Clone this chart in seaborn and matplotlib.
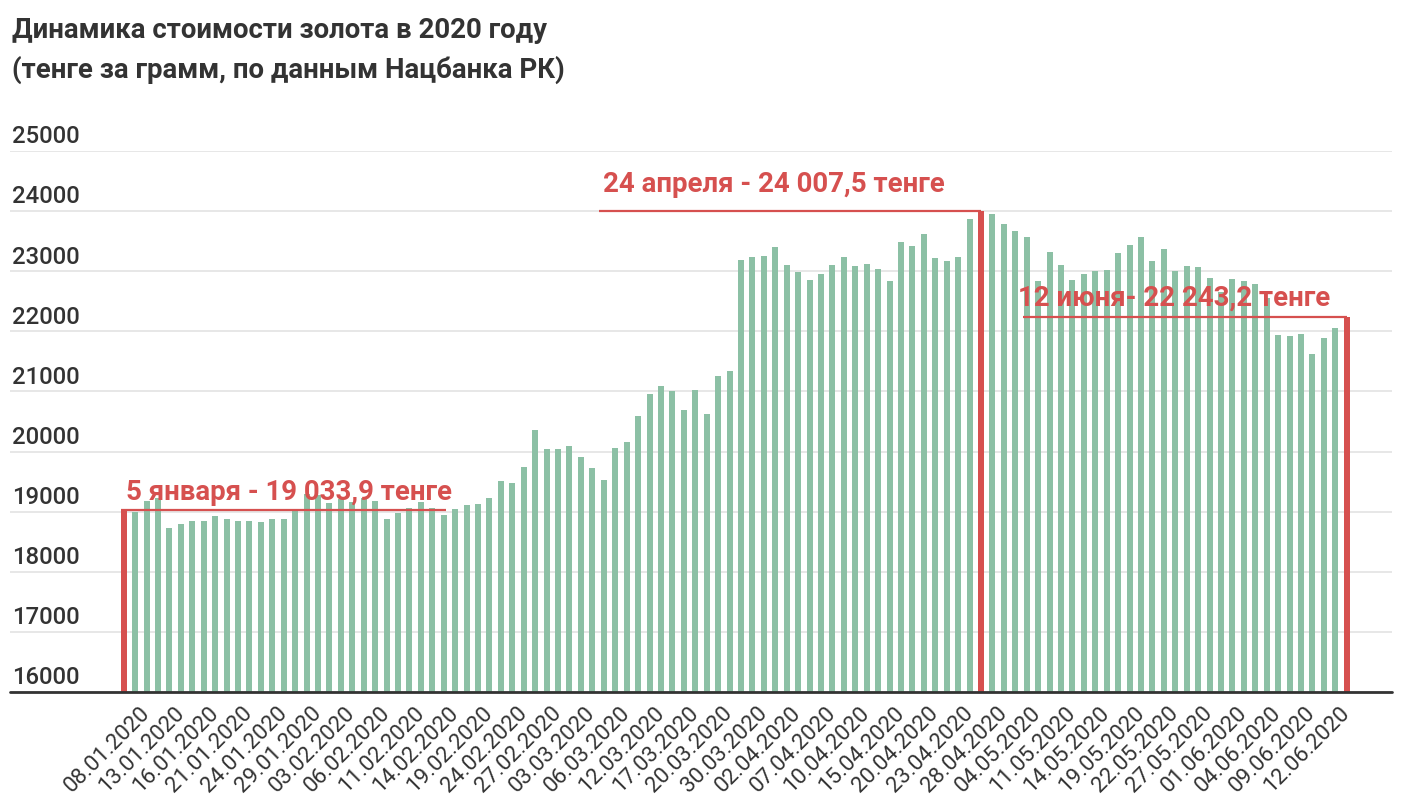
import matplotlib
matplotlib.use("Agg")
import matplotlib.pyplot as plt
import matplotlib.transforms as mtrans
import seaborn as sns
import pandas as pd
import numpy as np

# ---------------- data ----------------
values = [
    19033.9, 19000, 19183, 19222, 18734, 18795, 18840, 18840, 18934, 18884,
    18840, 18840, 18823, 18884, 18873, 19005, 19290, 19270, 19140, 19210,
    19167, 19223, 19170, 18884, 18973, 19056, 19167, 19056, 18945, 19040,
    19106, 19133, 19233, 19506, 19473, 19744, 20359, 20038, 20040, 20088,
    19910, 19727, 19530, 20060, 20155, 20587, 20964, 21091, 21014, 20697,
    21031, 20631, 21263, 21347, 23188, 23233, 23249, 23404, 23105, 22994,
    22856, 22961, 23105, 23233, 23088, 23121, 23044, 22839, 23488, 23421,
    23615, 23216, 23171, 23233, 23865, 24007.5, 23948, 23787, 23677, 23566,
    22833, 23316, 23105, 22856, 22961, 23011, 23028, 23310, 23438, 23566,
    23171, 23371, 23011, 23088, 23072, 22883, 22650, 22866, 22839, 22789,
    22550, 21946, 21918, 21962, 21619, 21885, 22061, 22243.2,
]
highlight_idx = [0, 75, 107]

tick_labels = [
    "08.01.2020", "13.01.2020", "16.01.2020", "21.01.2020", "24.01.2020",
    "29.01.2020", "03.02.2020", "06.02.2020", "11.02.2020", "14.02.2020",
    "19.02.2020", "24.02.2020", "27.02.2020", "03.03.2020", "06.03.2020",
    "12.03.2020", "17.03.2020", "20.03.2020", "30.03.2020", "02.04.2020",
    "07.04.2020", "10.04.2020", "15.04.2020", "20.04.2020", "23.04.2020",
    "28.04.2020", "04.05.2020", "11.05.2020", "14.05.2020", "19.05.2020",
    "22.05.2020", "27.05.2020", "01.06.2020", "04.06.2020", "09.06.2020",
    "12.06.2020",
]
annotations = [
    "5 января - 19 033,9 тенге",
    "24 апреля - 24 007,5 тенге",
    "12 июня- 22 243,2 тенге",
]
y_ticks = [16000, 17000, 18000, 19000, 20000, 21000, 22000, 23000, 24000, 25000]
title_lines = [
    "Динамика стоимости золота в 2020 году",
    "(тенге за грамм, по данным Нацбанка РК)",
]

# ---------------- style ----------------
GREEN = "#8cc0a5"
RED = "#d6504f"
TXT = "#333333"

sns.set_theme(style="white")
plt.rcParams["font.family"] = ["Roboto", "DejaVu Sans"]

W, H = 1406, 810
fig = plt.figure(figsize=(W / 100, H / 100), dpi=100)
ax = fig.add_axes([10 / W, 1 - 692 / H, 1382 / W, (692 - 151) / H])

n = len(values)
df = pd.DataFrame({
    "pos": np.arange(n),
    "value": values,
    "kind": ["hl" if i in highlight_idx else "base" for i in range(n)],
})

sns.barplot(data=df, x="pos", y="value", hue="kind",
            palette={"base": GREEN, "hl": RED}, dodge=False,
            width=0.525, saturation=1, legend=False, ax=ax,
            linewidth=0, zorder=2)

ax.set_xlim(-9.95, n - 1 + 3.96)
ax.set_ylim(y_ticks[0], y_ticks[-1])
for s in ax.spines.values():
    s.set_visible(False)
ax.set_yticks(y_ticks)
ax.yaxis.grid(True, color="#e3e3e3", lw=1.2)
ax.set_axisbelow(True)
ax.tick_params(axis="y", length=0, labelleft=False)
ax.set_xlabel("")
ax.set_ylabel("")

# baseline
ax.axhline(y_ticks[0], color="#333333", lw=2, zorder=3, clip_on=False)

# y labels above the grid lines
trans = mtrans.blended_transform_factory(ax.transAxes, ax.transData)
for v in y_ticks:
    ax.annotate(str(v), xy=(0.0015, v), xycoords=trans,
                xytext=(0, 5.5), textcoords="offset points",
                ha="left", va="baseline", fontsize=17.2, fontweight="medium",
                color=TXT)

# x tick labels
tick_pos = list(range(2, n, 3))
ax.set_xticks(tick_pos)
ax.set_xticklabels(tick_labels, rotation=45, ha="right", va="center",
                   rotation_mode="anchor", fontsize=16, color=TXT)
ax.tick_params(axis="x", length=0, pad=13)

# annotations
ann_specs = [
    (0, -0.26, 28.2, 0.2, 7.2),
    (75, 41.6, 75, 41.9, 13.7),
    (107, 78.7, 107, 78.2, 7.9),
]
for txt, (bi, x0, x1, xt, dy) in zip(annotations, ann_specs):
    yv = values[bi]
    ax.plot([x0, x1], [yv, yv], color=RED, lw=1.6, zorder=4,
            solid_capstyle="butt")
    ax.annotate(txt, xy=(xt, yv), xytext=(0, dy), textcoords="offset points",
                ha="left", va="baseline", fontsize=19.9, fontweight="bold",
                color=RED, zorder=6)

# title
fig.text(12 / W, 1 - 30 / H, title_lines[0], ha="left", va="center",
         fontsize=19.9, fontweight="bold", color=TXT)
fig.text(12 / W, 1 - 70 / H, title_lines[1], ha="left", va="center",
         fontsize=19.9, fontweight="bold", color=TXT)

fig.savefig("out.png", dpi=100, facecolor="white")
